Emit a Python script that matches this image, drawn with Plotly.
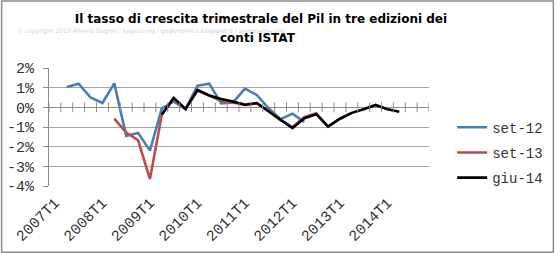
import plotly.graph_objects as go

# Quarters 2007T1 .. 2014T4 (32 categories)
quarters = [f"{y}T{q}" for y in range(2007, 2015) for q in range(1, 5)]
year_ticks = [f"{y}T1" for y in range(2007, 2015)]

N = None
set12 = [N, 1.03, 1.2, 0.5, 0.22, 1.22, -1.45, -1.3, -2.2, -0.05, 0.3, -0.1,
         1.1, 1.2, 0.2, 0.25, 0.95, 0.63, -0.05, -0.6, -0.32, -0.74]
set13 = [N, N, N, N, N, -0.57, -1.28, -1.67, -3.65, -0.38, 0.42, -0.08,
         0.85, 0.6, 0.32, 0.24, 0.15, 0.2, -0.2, -0.65, -1.0, -0.5,
         -0.3, -0.98, -0.58, -0.28]
giu14 = [N, N, N, N, N, N, N, N, N, -0.37, 0.48, -0.08,
         0.88, 0.6, 0.42, 0.3, 0.12, 0.22, -0.22, -0.66, -1.06, -0.55,
         -0.35, -0.98, -0.58, -0.28, -0.1, 0.12, -0.1, -0.22]

y_ticks = [2, 1, 0, -1, -2, -3, -4]
y_ticktext = [f"{v}%" for v in y_ticks]

series = [("set-12", set12, "#4a7ebb"), ("set-13", set13, "#be4b48"), ("giu-14", giu14, "#000000")]

title_line1 = "Il tasso di crescita trimestrale del Pil in tre edizioni dei"
title_line2 = "conti ISTAT"

mono = "Liberation Mono, Courier New, monospace"
txtcol = "#333333"

PL, PR, PT, PB = 48.5, 433.5, 67.7, 186.0
PW, PH = PR - PL, PB - PT

fig = go.Figure()
idx = list(range(len(quarters)))
for name, vals, col in series:
    fig.add_trace(go.Scatter(x=idx[:len(vals)], y=vals, mode="lines", name=name,
                             legendgroup=name,
                             line=dict(color=col, width=2.6), connectgaps=False,
                             hoverinfo="skip"))

# cross tick marks on the zero axis at category boundaries
bounds = [i - 0.5 for i in range(len(quarters) + 1)]
fig.add_trace(go.Scatter(x=bounds, y=[0] * len(bounds), mode="markers",
                         marker=dict(symbol="line-ns-open", size=7, color="#8c8c8c",
                                     line=dict(color="#8c8c8c", width=1)),
                         showlegend=False, hoverinfo="skip"))

fig.update_layout(
    width=560, height=253,
    margin=dict(l=PL, r=560 - PR, t=PT, b=253 - PB),
    paper_bgcolor="white", plot_bgcolor="white",
    showlegend=True,
    legend=dict(x=1.061, y=0.63, xanchor="left", yanchor="top",
                font=dict(family=mono, size=14, color=txtcol),
                tracegroupgap=4, bgcolor="rgba(0,0,0,0)"),
    title=dict(text=title_line1,
               x=0.466, xanchor="center", y=1 - 18.5 / 253, yanchor="middle",
               font=dict(family="DejaVu Sans", size=12, color="#000000", weight="bold")),
)

fig.update_xaxes(range=[-0.5, len(quarters) - 0.5], tickmode="array",
                 tickvals=[quarters.index(t) for t in year_ticks], ticktext=year_ticks,
                 tickangle=-45, showgrid=False, zeroline=False, showline=False,
                 ticks="", ticklabelstandoff=4, automargin=False,
                 tickfont=dict(family=mono, size=15, color=txtcol))
fig.update_yaxes(range=[-4, 2], tickmode="array", tickvals=y_ticks, ticktext=y_ticktext,
                 showgrid=True, gridcolor="#a6a6a6", gridwidth=1,
                 zeroline=True, zerolinecolor="#8c8c8c", zerolinewidth=1,
                 showline=True, linecolor="#8c8c8c", linewidth=1,
                 ticks="outside", ticklen=5, tickcolor="#8c8c8c", ticklabelstandoff=6,
                 automargin=False,
                 tickfont=dict(family=mono, size=15, color=txtcol))

# second title line
fig.add_annotation(text=title_line2, xref="paper", yref="paper",
                   x=(260 - PL) / PW, y=(PB - 38) / PH, xanchor="center", yanchor="middle",
                   showarrow=False,
                   font=dict(family="DejaVu Sans", size=12, color="#000000", weight="bold"))

# watermark text
fig.add_annotation(text="© copyright 2013 Alberto Bagnai / bagnai.org / goofynomics.blogspot.it / asimmetrie.org",
                   xref="paper", yref="paper", x=(14 - PL) / PW, y=(PB - 31) / PH,
                   xanchor="left", yanchor="middle", showarrow=False,
                   font=dict(family="DejaVu Sans", size=6, color="#d4d4d4"))

# outer frame
fig.add_shape(type="rect", xref="paper", yref="paper",
              x0=(0.5 - PL) / PW, x1=(559.5 - PL) / PW,
              y0=(PB - 252.5) / PH, y1=(PB - 0.5) / PH,
              line=dict(color="#8c8c8c", width=1.5), layer="below")

fig.write_html("out.html")
